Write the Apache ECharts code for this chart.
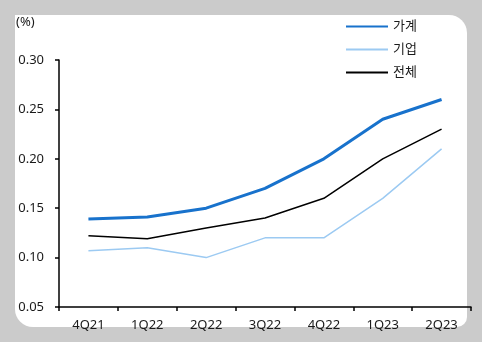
<!DOCTYPE html>
<html>
<head>
<meta charset="utf-8">
<script src="https://cdn.jsdelivr.net/npm/echarts@6/dist/echarts.min.js"></script>
<style>
  html, body { margin: 0; padding: 0; background: #cbcbcb; }
  #chart { width: 482px; height: 342px; }
</style>
</head>
<body>
<div id="chart"></div>
<script>
// Quarterly delinquency rates (%)
const quarters = ['4Q21', '1Q22', '2Q22', '3Q22', '4Q22', '1Q23', '2Q23'];
const household = [0.139, 0.141, 0.15, 0.17, 0.20, 0.24, 0.26];
const corporate = [0.107, 0.11, 0.10, 0.12, 0.12, 0.16, 0.21];
const total = [0.122, 0.119, 0.13, 0.14, 0.16, 0.20, 0.23];
const yTicks = ['0.05', '0.10', '0.15', '0.20', '0.25', '0.30'];

const font = "'Noto Sans', 'Noto Sans CJK KR', sans-serif";
const textColor = '#1a1a1a';

const chart = echarts.init(document.getElementById('chart'));
chart.setOption({
  backgroundColor: '#cbcbcb',
  animation: false,
  graphic: [{
    type: 'rect',
    z: -10,
    shape: { x: 15, y: 15, width: 452, height: 312, r: [0, 18, 10, 18] },
    style: { fill: '#ffffff' }
  }],
  title: {
    text: '(%)',
    left: 11,
    top: 11,
    textStyle: { fontFamily: font, fontSize: 13, fontWeight: 'normal', color: textColor }
  },
  legend: {
    orient: 'vertical',
    left: 340,
    top: 15,
    itemWidth: 42,
    itemHeight: 14,
    itemGap: 10,
    itemStyle: { opacity: 0 },
    textStyle: { fontFamily: font, fontSize: 13, color: textColor },
    data: ['가계', '기업', '전체']
  },
  grid: { left: 59, right: 11, top: 60, bottom: 35 },
  xAxis: {
    type: 'category',
    data: quarters,
    boundaryGap: true,
    axisLine: { lineStyle: { color: '#000', width: 1.5 } },
    axisTick: { show: true, length: 4, lineStyle: { color: '#000', width: 1.5 } },
    axisLabel: { margin: 12, fontFamily: font, fontSize: 13, color: textColor }
  },
  yAxis: {
    type: 'value',
    min: 0.05,
    max: 0.30,
    interval: 0.05,
    splitLine: { show: false },
    axisLine: { show: true, lineStyle: { color: '#000', width: 1.5 } },
    axisTick: { show: true, length: 4, lineStyle: { color: '#000', width: 1.5 } },
    axisLabel: {
      margin: 15,
      fontFamily: font,
      fontSize: 13,
      color: textColor,
      formatter: v => yTicks.find(t => Math.abs(parseFloat(t) - v) < 1e-9) || v.toFixed(2)
    }
  },
  series: [
    {
      name: '가계', type: 'line', data: household, symbol: 'none',
      lineStyle: { color: '#1872cc', width: 3 }, itemStyle: { color: '#1872cc' }, z: 3
    },
    {
      name: '기업', type: 'line', data: corporate, symbol: 'none',
      lineStyle: { color: '#9ccaf2', width: 1.5 }, itemStyle: { color: '#9ccaf2' }, z: 1
    },
    {
      name: '전체', type: 'line', data: total, symbol: 'none',
      lineStyle: { color: '#000000', width: 1.5 }, itemStyle: { color: '#000000' }, z: 2
    }
  ]
});
</script>
</body>
</html>
